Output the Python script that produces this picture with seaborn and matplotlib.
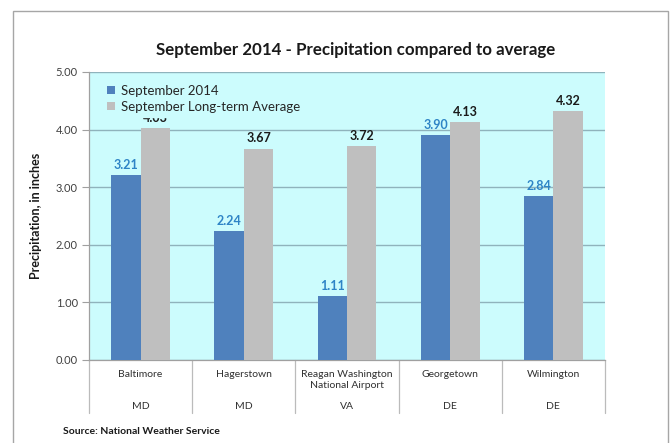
import pandas as pd
import matplotlib.pyplot as plt
import matplotlib.transforms as mtransforms
from matplotlib.patches import Rectangle
import seaborn as sns

# Datos del grafico
cities = ["Baltimore", "Hagerstown", "Reagan Washington\nNational Airport", "Georgetown", "Wilmington"]
states = ["MD", "MD", "VA", "DE", "DE"]
sept_2014 = [3.21, 2.24, 1.11, 3.90, 2.84]
long_term_avg = [4.03, 3.67, 3.72, 4.13, 4.32]
series_names = ["September 2014", "September Long-term Average"]
y_ticks = [0.0, 1.0, 2.0, 3.0, 4.0, 5.0]

blue = "#4F81BD"
gray = "#BFBFBF"
bg = "#CCFCFD"
grid_col = "#8FB3BC"
label_blue = "#2E84C6"

df = pd.DataFrame({
    "city": cities * 2,
    "series": [series_names[0]] * 5 + [series_names[1]] * 5,
    "value": sept_2014 + long_term_avg,
})

sns.set_style("white")
plt.rcParams["font.family"] = ["Lato", "DejaVu Sans"]

fig = plt.figure(figsize=(6.72, 4.43), dpi=100)
ax = fig.add_axes([89 / 672, 1 - 360 / 443, (605 - 89) / 672, (360 - 72) / 443])
ax.set_facecolor(bg)

sns.barplot(data=df, x="city", y="value", hue="series", order=cities,
            hue_order=series_names, palette=[blue, gray], width=0.57,
            saturation=1, linewidth=0, ax=ax, zorder=3)

ax.set_ylim(0, 5)
ax.set_xlim(-0.5, 4.5)
ax.set_yticks(y_ticks)
ax.set_yticklabels([f"{t:.2f}" for t in y_ticks], fontsize=8, color="#404040")
ax.yaxis.grid(True, color=grid_col, linewidth=1, zorder=0)
ax.set_axisbelow(True)
ax.tick_params(axis="y", length=5, width=0.8, color="#A0A0A0", left=True, pad=3)
ax.set_xticks([])
ax.set_xlabel("")
ax.set_ylabel("")
for s in ["top", "right"]:
    ax.spines[s].set_visible(False)
for s in ["left", "bottom"]:
    ax.spines[s].set_color("#A0A0A0")
    ax.spines[s].set_linewidth(0.9)

# Etiquetas de valores
ax.bar_label(ax.containers[0], fmt="%.2f", padding=3, fontsize=9,
             fontweight="bold", color=label_blue)
ax.bar_label(ax.containers[1], fmt="%.2f", padding=3, fontsize=9,
             fontweight="bold", color="#1A1A1A")

# Eje de categorias en dos niveles
trans = mtransforms.blended_transform_factory(ax.transData, ax.transAxes)
for i, (c, st) in enumerate(zip(cities, states)):
    ax.text(i, -0.034, c, transform=trans, ha="center", va="top",
            fontsize=7.5, color="#303030", linespacing=1.3)
    ax.text(i, -0.16, st, transform=trans, ha="center", va="center",
            fontsize=7.5, color="#303030")
for x in [-0.5, 0.5, 1.5, 2.5, 3.5, 4.5]:
    ax.plot([x, x], [0, -0.185], transform=trans, color="#BBBBBB",
            linewidth=0.9, clip_on=False)

leg = ax.legend(loc="upper left", bbox_to_anchor=(0.014, 0.995), frameon=True,
                fontsize=9.5, handlelength=0.6, handleheight=0.6,
                handletextpad=0.4, labelspacing=0.3, borderpad=0.35)
leg.get_frame().set_facecolor(bg)
leg.get_frame().set_edgecolor(bg)
leg.get_frame().set_alpha(1)
leg.set_zorder(5)
for t in leg.get_texts():
    t.set_color("#262626")

fig.text(356 / 672, 1 - 50 / 443, "September 2014 - Precipitation compared to average",
         ha="center", va="center", fontsize=12.2, fontweight="bold", color="#1A1A1A")
fig.text(36 / 672, 1 - 216 / 443, "Precipitation, in inches", rotation=90,
         ha="center", va="center", fontsize=9, fontweight="bold", color="#1A1A1A")
fig.text(63 / 672, 1 - 432 / 443, "Source: National Weather Service",
         ha="left", va="center", fontsize=7.5, fontweight="bold", color="#1A1A1A")

fig.patches.append(Rectangle((13 / 672, -0.02), (668 - 13) / 672, 1 - 11 / 443 + 0.02,
                             transform=fig.transFigure, fill=False,
                             edgecolor="#A6A6A6", linewidth=1))

fig.savefig("out.png", dpi=100)
